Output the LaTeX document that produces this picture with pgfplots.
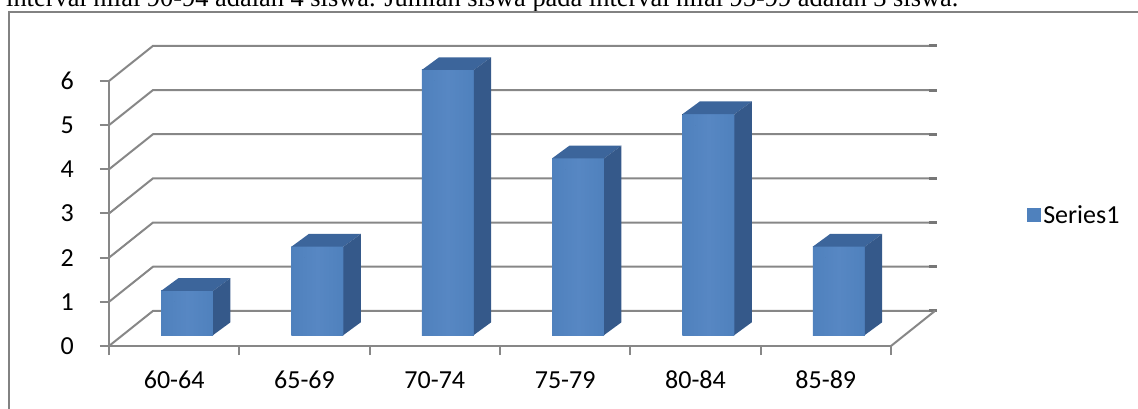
\documentclass[border=0pt]{standalone}
\usepackage{pgfplots}
\pgfplotsset{compat=1.18}
\usepackage{pgfplotstable}
\usepackage{fontspec}
\setmainfont{Carlito}
\newfontfamily\timesf{Liberation Serif}

\definecolor{gridgray}{HTML}{878787}
\definecolor{stubgray}{HTML}{777777}
\definecolor{framegray}{HTML}{828282}
\definecolor{barfront}{HTML}{4F81BD}
\definecolor{barfrontlight}{HTML}{5787C3}
\definecolor{bartop}{HTML}{3C659B}
\definecolor{barside}{HTML}{35598A}

% frequency of each score interval
\pgfplotstableread{
x   v
0.5 1
1.5 2
2.5 6
3.5 4
4.5 5
5.5 2
}\freq

% one 3-D column; the origin sits at (category centre, value) on the front plane
\newcommand\drawbar[1]{%
  \pgfmathsetmacro\yb{11-#1*44.17}%
  \pgfmathsetmacro\ys{23.7-#1*44.17}%
  \fill[draw=none, left color=barfront, right color=barfront, middle color=barfrontlight]
     (-13pt,\yb pt) rectangle (39pt,11pt);
  \fill[draw=none, bartop] (-13pt,11pt) -- (39pt,11pt) -- (56.3pt,23.7pt) -- (4.3pt,23.7pt) -- cycle;
  \fill[draw=none, barside] (39pt,11pt) -- (56.3pt,23.7pt) -- (56.3pt,\ys pt) -- (39pt,\yb pt) -- cycle;
}

\begin{document}
\begin{tikzpicture}
\useasboundingbox (0,0) rectangle (1138pt,-409pt);
\clip (0,0) rectangle (1138pt,-409pt);

% running text above the chart
\node[anchor=base west, inner sep=0pt] at (6pt,-7pt)
  {\resizebox{952pt}{!}{\timesf interval nilai 90-94 adalah 4 siswa. Jumlah siswa pada interval nilai 95-99 adalah 3 siswa.}};

% chart frame
\draw[framegray, line width=2pt] (9pt,-409pt) -- (9pt,-12pt) -- (1138pt,-12pt);

\begin{axis}[
  at={(109pt,-346pt)}, anchor=south west,
  x=130.33pt, y=44.17pt,
  xmin=0, xmax=6, ymin=0, ymax=6,
  enlargelimits=false,
  clip=false,
  axis x line*=bottom, axis y line*=left,
  axis line style={gridgray, line width=2pt, -},
  tick style={gridgray, line width=2pt},
  tick align=outside, major tick length=9pt,
  xtick={0,...,6}, x tick label as interval,
  xticklabels={60-64,65-69,70-74,75-79,80-84,85-89},
  ytick={0,...,6},
  /pgf/number format/assume math mode=true,
  ticklabel style={font=\fontsize{26}{30}\selectfont, inner sep=0pt},
  xticklabel style={anchor=base, yshift=-33pt},
  yticklabel style={anchor=east, xshift=-26pt},
  legend style={draw=none, fill=none, inner sep=0pt,
    at={(axis cs:7.044,2.97)}, anchor=west,
    font=\fontsize{26}{30}\selectfont},
]
% side wall and back wall gridlines
\pgfplotsinvokeforeach{0,...,6}{
  \draw[gridgray, line width=2pt] (0,#1) -- (0.3376,{#1+0.795}) -- (6.353,{#1+0.795});
  \draw[stubgray, line width=3pt] (6.29,{#1+0.795}) -- (6.353,{#1+0.795});
}
% right edge of the floor
\draw[gridgray, line width=2pt] (6,0) -- (6.3376,0.795);

\addplot[forget plot, scatter, only marks, mark=*, mark size=0pt,
  mark options={draw=none, fill=none},
  visualization depends on={\thisrow{v} \as \barval},
  scatter/@pre marker code/.code={\drawbar{\barval}},
  scatter/@post marker code/.code={}]
  table[x=x, y=v] {\freq};

\addlegendimage{legend image code/.code={\fill[barfront, draw=none] (0pt,-7pt) rectangle (14pt,7pt);}}
\addlegendentry{Series1}
\end{axis}
\end{tikzpicture}
\end{document}
